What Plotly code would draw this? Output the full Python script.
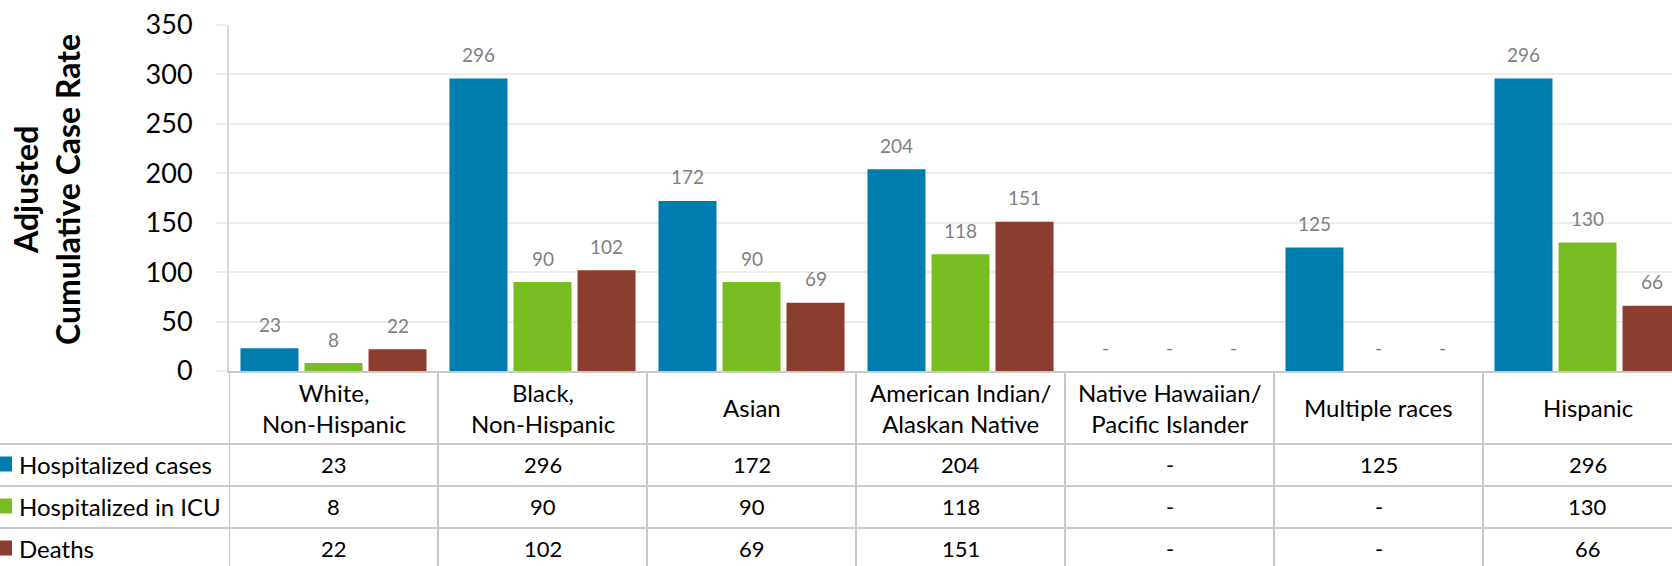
import plotly.graph_objects as go

# categories and values (missing values shown as "-")
categories = ["White,<br>Non-Hispanic", "Black,<br>Non-Hispanic", "Asian",
              "American Indian/<br>Alaskan Native", "Native Hawaiian/<br>Pacific Islander",
              "Multiple races", "Hispanic"]
hospitalized = [23, 296, 172, 204, None, 125, 296]
icu = [8, 90, 90, 118, None, None, 130]
deaths = [22, 102, 69, 151, None, None, 66]

series_names = ["Hospitalized cases", "Hospitalized in ICU", "Deaths"]
series_values = [hospitalized, icu, deaths]
colors = ["#007DAF", "#78BD22", "#8B3D2E"]

W, H = 1672, 566
L, R, T, B = 229, 0, 25, 195
plot_w = W - L - R
plot_h = H - T - B
cat_px = 209.0
slot = 64.0 / cat_px  # group slot offset in category units

FONT = "Lato"
grid_col = "#ededed"
table_col = "#c9c9c9"


def py2paper(py):
    return (H - B - py) / plot_h


def px2paper(px):
    return (px - L) / plot_w


x_idx = list(range(len(categories)))

fig = go.Figure()
for name, vals, col in zip(series_names, series_values, colors):
    fig.add_trace(go.Bar(x=x_idx, y=vals, name=name, marker_color=col,
                         marker_line_width=0, showlegend=False))

annotations = []
shapes = []

# data labels above bars
for k, vals in enumerate(series_values):
    for i, v in enumerate(vals):
        annotations.append(dict(
            x=i + (k - 1) * slot, y=v if v is not None else 0, xref="x", yref="y",
            text=str(v) if v is not None else "-", showarrow=False,
            yanchor="middle", yshift=24,
            font=dict(family=FONT, size=19, color="#7f7f7f")))

# table: category labels row
row_edges = [371, 444, 486, 528, 570]
for i, c in enumerate(categories):
    annotations.append(dict(
        x=i, y=py2paper((row_edges[0] + row_edges[1]) / 2), xref="x", yref="paper",
        text=c, showarrow=False, xanchor="center", yanchor="middle",
        font=dict(family=FONT, size=24, color="#000000")))

# table: value rows with legend keys
for r, (name, vals, col) in enumerate(zip(series_names, series_values, colors)):
    cy = (row_edges[r + 1] + row_edges[r + 2]) / 2 - 1
    for i, v in enumerate(vals):
        annotations.append(dict(
            x=i, y=py2paper(cy), xref="x", yref="paper",
            text=str(v) if v is not None else "-", showarrow=False,
            xanchor="center", yanchor="middle",
            font=dict(family=FONT, size=22, color="#000000")))
    annotations.append(dict(
        x=px2paper(17), y=py2paper(cy), xref="paper", yref="paper",
        text=name, showarrow=False, xanchor="left", yanchor="middle",
        font=dict(family=FONT, size=24, color="#000000")))
    shapes.append(dict(type="rect", xref="paper", yref="paper",
                       x0=px2paper(-3), x1=px2paper(12),
                       y0=py2paper(cy - 7.5), y1=py2paper(cy + 7.5),
                       fillcolor=col, line=dict(width=0)))

# horizontal table lines
for e in row_edges[1:4]:
    shapes.append(dict(type="line", xref="paper", yref="paper",
                       x0=px2paper(0), x1=1, y0=py2paper(e), y1=py2paper(e),
                       line=dict(color=table_col, width=2)))
# vertical table lines
for i in range(len(categories) + 1):
    shapes.append(dict(type="line", xref="x", yref="paper",
                       x0=i - 0.5, x1=i - 0.5, y0=0, y1=py2paper(H + 5),
                       line=dict(color=table_col, width=2)))

# y-axis title, two lines placed separately
for txt, cx in [("Adjusted", 25), ("Cumulative Case Rate", 67)]:
    annotations.append(dict(
        x=px2paper(cx), y=py2paper(190), xref="paper", yref="paper",
        text=txt, showarrow=False, textangle=-90,
        xanchor="center", yanchor="middle",
        font=dict(family=FONT, size=32, color="#000000", weight="bold")))

fig.update_layout(
    width=W, height=H,
    margin=dict(l=L, r=R, t=T, b=B, pad=0),
    paper_bgcolor="white", plot_bgcolor="white",
    barmode="group", bargap=0.081, bargroupgap=0.094,
    annotations=annotations, shapes=shapes,
    xaxis=dict(range=[-0.5, -0.5 + plot_w / cat_px], showticklabels=False,
               showgrid=False, zeroline=False, showline=True,
               linecolor=table_col, linewidth=2, ticks=""),
    yaxis=dict(range=[0, 350], dtick=50, showgrid=True, gridcolor=grid_col,
               gridwidth=2, zeroline=False, showline=True, linecolor="#d9d9d9",
               linewidth=2, ticks="outside", ticklen=11, tickcolor=grid_col,
               tickwidth=2, ticklabelstandoff=18,
               tickfont=dict(family=FONT, size=27, color="#000000")),
)

# drop the default page margin so the figure sits at the window's corner
fig.write_html("out.html", config={"displayModeBar": False},
               post_script="document.body.style.margin='0';")
